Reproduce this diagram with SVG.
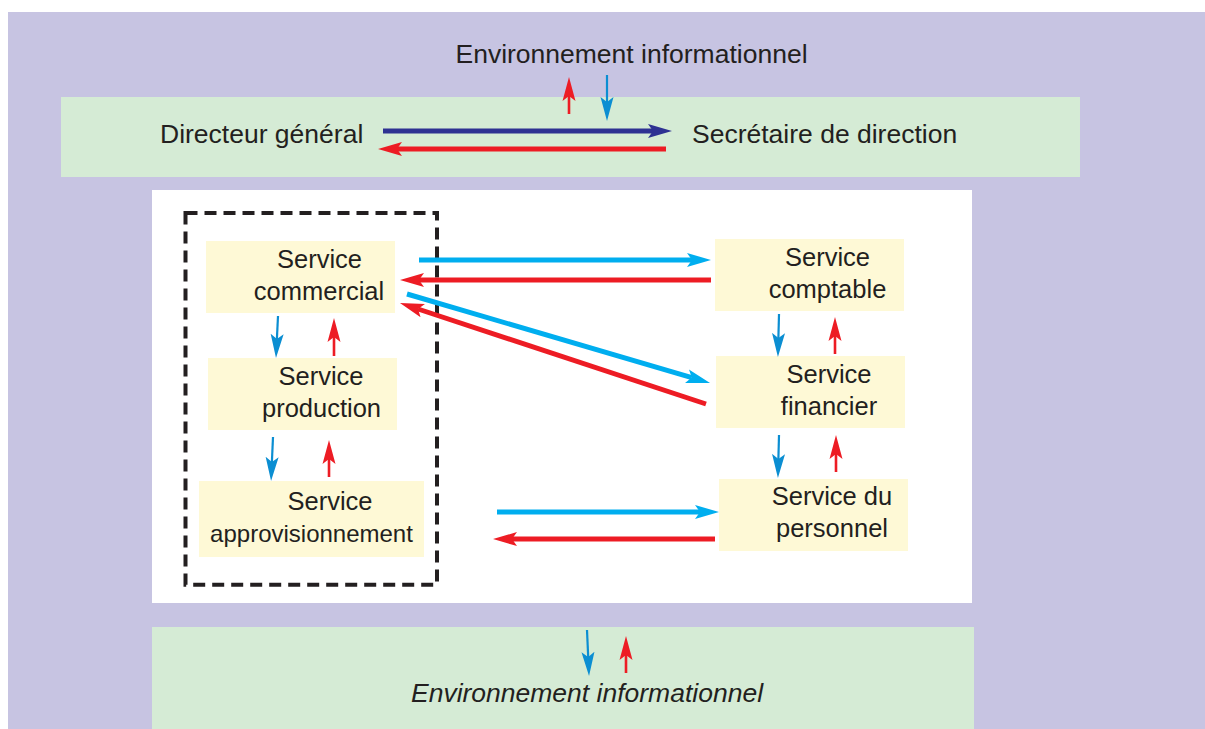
<svg xmlns="http://www.w3.org/2000/svg" width="1205" height="729" viewBox="0 0 1205 729">
<style>
text{font-family:"Liberation Sans",Arial,sans-serif;fill:#231f20;}
.t{font-size:26.5px;}
.n{font-size:25.5px;text-anchor:middle;}
.box{fill:#fef9d6;}
.blue{stroke:#00aeef;stroke-width:5;fill:none;}
.red{stroke:#ed1c24;stroke-width:5;fill:none;}
.navy{stroke:#2e3192;stroke-width:5;fill:none;}
.sblue{stroke:#0b8ed2;stroke-width:2.2;fill:none;}
.sred{stroke:#ed1c24;stroke-width:2.6;fill:none;}
</style>
<defs>
<marker id="hb" markerUnits="userSpaceOnUse" markerWidth="30" markerHeight="20" viewBox="0 -10 30 20" refX="5" refY="0" orient="auto"><path d="M0,-7 L24,0 L0,7 L5,0 Z" fill="#00aeef"/></marker>
<marker id="hr" markerUnits="userSpaceOnUse" markerWidth="30" markerHeight="20" viewBox="0 -10 30 20" refX="5" refY="0" orient="auto"><path d="M0,-7 L24,0 L0,7 L5,0 Z" fill="#ed1c24"/></marker>
<marker id="hn" markerUnits="userSpaceOnUse" markerWidth="30" markerHeight="20" viewBox="0 -10 30 20" refX="5" refY="0" orient="auto"><path d="M0,-7 L24,0 L0,7 L5,0 Z" fill="#2e3192"/></marker>
<marker id="sb" markerUnits="userSpaceOnUse" markerWidth="30" markerHeight="20" viewBox="0 -10 30 20" refX="5" refY="0" orient="auto"><path d="M0,-6.5 L24,0 L0,6.5 L5,0 Z" fill="#0b8ed2"/></marker>
<marker id="sr" markerUnits="userSpaceOnUse" markerWidth="30" markerHeight="20" viewBox="0 -10 30 20" refX="5" refY="0" orient="auto"><path d="M0,-6.5 L24,0 L0,6.5 L5,0 Z" fill="#ed1c24"/></marker>
</defs>
<rect x="0" y="0" width="1205" height="729" fill="#ffffff"/>
<rect x="8" y="12" width="1197" height="717" fill="#c7c4e2"/>
<rect x="61" y="97" width="1019" height="80" fill="#d5ebd5"/>
<rect x="152" y="190" width="820" height="413" fill="#ffffff"/>
<rect x="152" y="627" width="822" height="102" fill="#d5ebd5"/>
<rect x="185.5" y="213" width="251.5" height="371.7" fill="none" stroke="#231f20" stroke-width="4" stroke-dasharray="12 7"/>

<g id="env-top"><text class="t" x="631.5" y="63" text-anchor="middle">Environnement informationnel</text></g>
<g id="directeur"><text class="t" x="160" y="143">Directeur général</text></g>
<g id="secretaire"><text class="t" x="692" y="143">Secrétaire de direction</text></g>
<g id="env-bottom"><text class="t" x="587" y="702" text-anchor="middle" font-style="italic">Environnement informationnel</text></g>

<g id="commercial"><rect class="box" x="206" y="241" width="189" height="72"/><text class="n" x="319.5" y="268">Service</text><text class="n" x="319" y="300">commercial</text></g>
<g id="production"><rect class="box" x="208" y="358" width="189" height="72"/><text class="n" x="321" y="385">Service</text><text class="n" x="321.5" y="417">production</text></g>
<g id="approvisionnement"><rect class="box" x="199" y="481" width="225" height="76"/><text class="n" x="330" y="510">Service</text><text class="n" x="311.5" y="542" style="font-size:24px">approvisionnement</text></g>
<g id="comptable"><rect class="box" x="715" y="239" width="189" height="72"/><text class="n" x="827.5" y="266">Service</text><text class="n" x="827.5" y="298">comptable</text></g>
<g id="financier"><rect class="box" x="716" y="356" width="189" height="72"/><text class="n" x="829" y="383">Service</text><text class="n" x="829" y="415">financier</text></g>
<g id="personnel"><rect class="box" x="719" y="479" width="189" height="72"/><text class="n" x="832" y="505">Service du</text><text class="n" x="832" y="537">personnel</text></g>

<g id="connectors">
<line class="navy" x1="383" y1="131" x2="653" y2="131" marker-end="url(#hn)"/>
<line class="red" x1="666" y1="149" x2="397" y2="149" marker-end="url(#hr)"/>
<line class="sred" x1="569" y1="114" x2="569" y2="96" marker-end="url(#sr)"/>
<line class="sblue" x1="607" y1="75" x2="607" y2="102" marker-end="url(#sb)"/>

<line class="blue" x1="419" y1="260" x2="692" y2="260" marker-end="url(#hb)"/>
<line class="red" x1="711" y1="280" x2="419" y2="280" marker-end="url(#hr)"/>
<line class="blue" x1="407" y1="294" x2="691.8" y2="377.6" marker-end="url(#hb)"/>
<line class="red" x1="706" y1="404" x2="418" y2="309" marker-end="url(#hr)"/>
<line class="blue" x1="497" y1="512" x2="700" y2="512" marker-end="url(#hb)"/>
<line class="red" x1="715" y1="539" x2="512" y2="539" marker-end="url(#hr)"/>

<line class="sblue" x1="278" y1="316" x2="276.9" y2="339" marker-end="url(#sb)"/>
<line class="sred" x1="334" y1="356" x2="334" y2="337" marker-end="url(#sr)"/>
<line class="sblue" x1="273" y1="437" x2="271.9" y2="462" marker-end="url(#sb)"/>
<line class="sred" x1="329" y1="477" x2="329" y2="459" marker-end="url(#sr)"/>
<line class="sblue" x1="779" y1="314" x2="778.4" y2="338" marker-end="url(#sb)"/>
<line class="sred" x1="835" y1="354" x2="835" y2="336" marker-end="url(#sr)"/>
<line class="sblue" x1="779" y1="435" x2="778.4" y2="459" marker-end="url(#sb)"/>
<line class="sred" x1="836" y1="472" x2="836" y2="454" marker-end="url(#sr)"/>
<line class="sblue" x1="587" y1="630" x2="588.2" y2="657" marker-end="url(#sb)"/>
<line class="sred" x1="626" y1="673" x2="626" y2="655" marker-end="url(#sr)"/>
</g>
</svg>
